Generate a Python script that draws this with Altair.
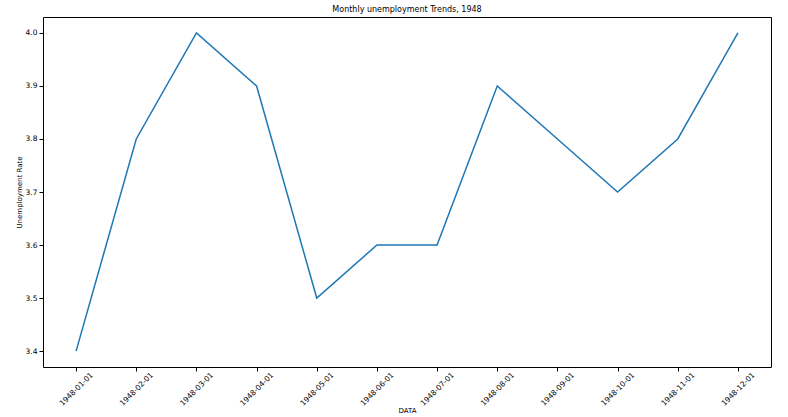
import altair as alt
import pandas as pd

dates = ["1948-01-01", "1948-02-01", "1948-03-01", "1948-04-01", "1948-05-01", "1948-06-01",
         "1948-07-01", "1948-08-01", "1948-09-01", "1948-10-01", "1948-11-01", "1948-12-01"]
rates = [3.4, 3.8, 4.0, 3.9, 3.5, 3.6, 3.6, 3.9, 3.8, 3.7, 3.8, 4.0]
y_ticks = [3.4, 3.5, 3.6, 3.7, 3.8, 3.9, 4.0]

df = pd.DataFrame({"DATA": dates, "rate": rates})

FONT = "DejaVu Sans"

chart = alt.Chart(df).mark_line(color="#1f77b4", strokeWidth=1.5).encode(
    x=alt.X("DATA:N", sort=dates,
            scale=alt.Scale(type="point", padding=0.55),
            axis=alt.Axis(title="DATA", labelAngle=-45, labelAlign="center",
                          labelBaseline="middle", labelPadding=18, grid=False,
                          domain=False, tickSize=4, tickColor="black",
                          labelColor="black", labelFontSize=7.5, labelFont=FONT,
                          titleFont=FONT, titleFontSize=7, titleFontWeight="normal",
                          titleColor="black", titleX=364, titleY=43,
                          titleBaseline="middle", titleAlign="center")),
    y=alt.Y("rate:Q", scale=alt.Scale(domain=[3.37, 4.03], nice=False, zero=False),
            axis=alt.Axis(title="Unemployment Rate", values=y_ticks, format=".1f",
                          grid=False, domain=False, tickSize=4, tickColor="black",
                          labelColor="black", labelFontSize=7.5, labelFont=FONT,
                          labelPadding=2,
                          titleFont=FONT, titleFontSize=7, titleFontWeight="normal",
                          titleColor="black", titleX=-24, titleY=175, titleAngle=-90,
                          titleBaseline="middle", titleAlign="center")),
).properties(
    width=728, height=350,
    title=alt.TitleParams("Monthly unemployment Trends, 1948", font=FONT, fontSize=8,
                          fontWeight="normal", color="black", offset=3, anchor="middle"),
    autosize=alt.AutoSizeParams(type="none"),
    padding={"left": 43, "top": 17, "right": 17, "bottom": 50},
).configure(background="white").configure_view(stroke="black", strokeWidth=1)

chart.save("out.html", embed_options={"renderer": "svg", "actions": False})
